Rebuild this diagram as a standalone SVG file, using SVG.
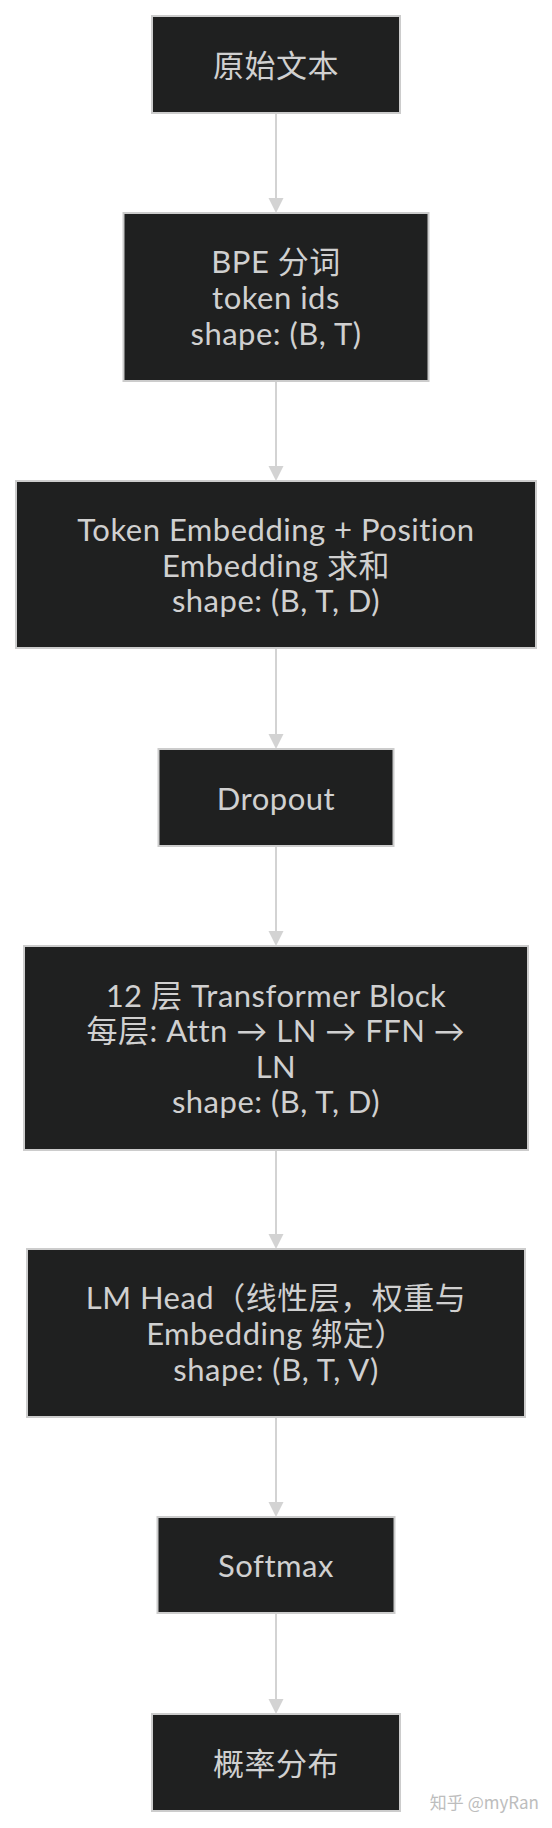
<svg xmlns="http://www.w3.org/2000/svg" width="552" height="1828" viewBox="0 0 552 1828">
<defs>
<style>
.node rect{fill:#1f2020;stroke:#cccccc;stroke-width:2}
.node text{fill:#d0d0d0;font-family:Lato,"Noto Sans CJK SC",sans-serif;font-size:31px;letter-spacing:0.5px;text-anchor:middle}
.edge{stroke:#d3d3d3;stroke-width:2;fill:none}
.head{fill:#d3d3d3}
.wm{fill:#bdbdbd;font-family:"Noto Sans CJK SC",sans-serif;font-size:17px;text-anchor:end}
</style>
</defs>
<rect width="552" height="1828" fill="#ffffff"/>
<g id="connectors">
<line class="edge" x1="276" y1="113" x2="276" y2="200"/><polygon class="head" points="268.5,198 283.5,198 276,213"/>
<line class="edge" x1="276" y1="381" x2="276" y2="468"/><polygon class="head" points="268.5,466 283.5,466 276,481"/>
<line class="edge" x1="276" y1="648" x2="276" y2="736"/><polygon class="head" points="268.5,734 283.5,734 276,749"/>
<line class="edge" x1="276" y1="846" x2="276" y2="933"/><polygon class="head" points="268.5,931 283.5,931 276,946"/>
<line class="edge" x1="276" y1="1150" x2="276" y2="1236"/><polygon class="head" points="268.5,1234 283.5,1234 276,1249"/>
<line class="edge" x1="276" y1="1417" x2="276" y2="1504"/><polygon class="head" points="268.5,1502 283.5,1502 276,1517"/>
<line class="edge" x1="276" y1="1613" x2="276" y2="1701"/><polygon class="head" points="268.5,1699 283.5,1699 276,1714"/>
</g>
<g id="raw" class="node"><rect x="152" y="16" width="248" height="97"/><text x="276" y="76.5">原始文本</text></g>
<g id="bpe" class="node"><rect x="123.5" y="213" width="305" height="168"/>
<text x="276" y="273.4">BPE 分词</text><text x="276" y="309">token ids</text><text x="276" y="344.6">shape: (B, T)</text></g>
<g id="embed" class="node"><rect x="16" y="481" width="520" height="167"/>
<text x="276" y="541">Token Embedding + Position</text><text x="276" y="576.5">Embedding 求和</text><text x="276" y="612">shape: (B, T, D)</text></g>
<g id="dropout" class="node"><rect x="158.5" y="749" width="235" height="97"/><text x="276" y="809.5">Dropout</text></g>
<g id="blocks" class="node"><rect x="24" y="946" width="504" height="204"/>
<text x="276" y="1006.6">12 层 Transformer Block</text><text x="276" y="1042.2">每层: Attn → LN → FFN →</text><text x="276" y="1077.8">LN</text><text x="276" y="1113.4">shape: (B, T, D)</text></g>
<g id="lmhead" class="node"><rect x="27" y="1249" width="498" height="168"/>
<text x="276" y="1309.4">LM Head（线性层，权重与</text><text x="276" y="1345">Embedding 绑定）</text><text x="276" y="1380.6">shape: (B, T, V)</text></g>
<g id="softmax" class="node"><rect x="157.5" y="1517" width="237" height="96"/><text x="276" y="1577">Softmax</text></g>
<g id="probs" class="node"><rect x="152" y="1714" width="248" height="97"/><text x="276" y="1774.5">概率分布</text></g>
<text class="wm" x="539" y="1809">知乎 @myRan</text>
</svg>
